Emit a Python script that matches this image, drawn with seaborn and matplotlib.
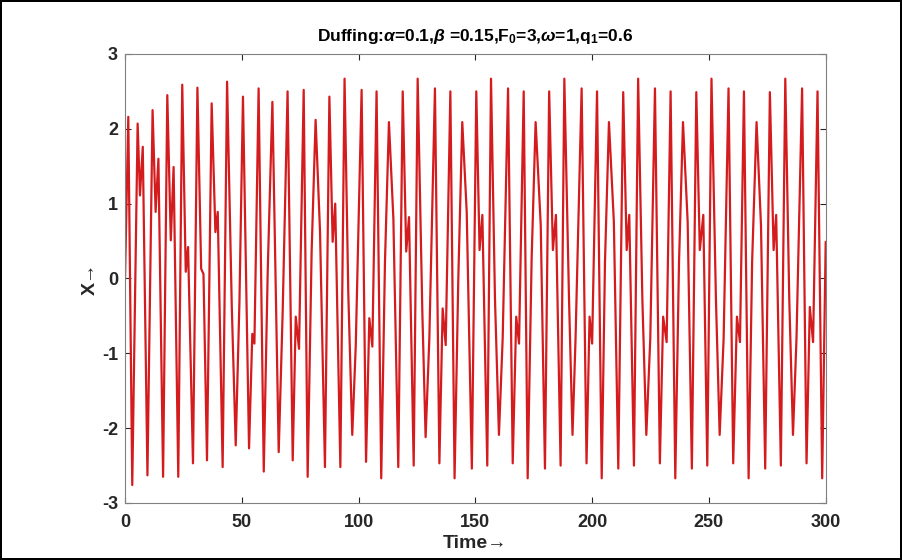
import pandas as pd
import seaborn as sns
import matplotlib.pyplot as plt

# values (extrema and kinks of the trace)
timeVals = [0, 1.4, 3.1, 5.4, 6.4, 7.6, 9.6, 11.8, 13.1, 14.3, 16.3, 18.1, 19.6, 20.8, 22.8,
            24.5, 26.0, 27.0, 29.1, 31.0, 32.6, 33.6, 35.1, 37.1, 38.7, 39.7, 41.8, 43.7, 45.7,
            47.4, 49.0, 50.5, 53.1, 54.5, 55.4, 57.2, 59.4, 61.1, 63.1, 65.8, 67.5, 69.6, 71.8,
            73.1, 74.5, 76.5, 78.2, 79.9, 81.6, 83.5, 85.6, 87.5, 88.9, 90.0, 92.2, 94.0, 95.6,
            97.3, 98.8, 101.3, 103.2, 104.6, 105.9, 107.7, 109.7, 111.3, 113.0, 114.9, 117.0,
            118.9, 120.4, 121.6, 123.6, 125.3, 127.3, 128.7, 130.3, 132.7, 134.6, 136.0, 137.3,
            139.3, 141.1, 142.7, 144.4, 146.3, 148.5, 150.4, 151.8, 153.0, 155.1, 156.7, 158.4,
            160.1, 161.7, 164.0, 166.0, 167.5, 168.7, 170.7, 172.4, 174.1, 175.8, 178.0, 179.8,
            181.6, 183.2, 184.5, 186.5, 188.1, 190.1, 191.6, 192.9, 195.5, 197.6, 198.9, 200.0,
            202.1, 204.1, 205.5, 207.2, 209.3, 211.2, 213.3, 214.8, 215.9, 217.9, 219.7, 221.5,
            223.2, 224.9, 226.9, 229.0, 230.4, 231.9, 233.6, 235.6, 237.2, 238.9, 240.9, 242.7,
            244.6, 246.1, 247.6, 249.3, 251.1, 253.0, 254.6, 256.3, 258.4, 260.4, 262.0, 263.3,
            265.0, 267.0, 268.5, 270.4, 272.3, 274.1, 276.1, 277.7, 278.8, 280.8, 282.7, 284.4,
            286.0, 287.5, 289.9, 291.8, 293.2, 294.6, 296.5, 298.5, 300.0]
xVals = [0.0, 2.16, -2.76, 2.07, 1.11, 1.76, -2.63, 2.25, 0.89, 1.60, -2.65, 2.45, 0.51, 1.49, -2.65,
         2.59, 0.09, 0.42, -2.47, 2.55, 0.13, 0.06, -2.43, 2.34, 0.62, 0.89, -2.52, 2.63, -0.36,
         -2.23, -0.30, 2.43, -2.27, -0.74, -0.87, 2.54, -2.58, 0.10, 2.36, -2.32, -0.45, 2.50, -2.43,
         -0.51, -0.94, 2.52, -2.65, 0.36, 2.12, 0.62, -2.52, 2.43, 0.49, 1.00, -2.52, 2.67, -0.20,
         -2.09, -0.89, 2.52, -2.45, -0.53, -0.91, 2.50, -2.67, 0.22, 2.09, 0.80, -2.52,
         2.50, 0.36, 0.82, -2.50, 2.67, -0.45, -2.12, -0.80, 2.54, -2.47, -0.40, -0.89,
         2.50, -2.67, 0.00, 2.09, 0.89, -2.54, 2.50, 0.38, 0.85, -2.50, 2.67, -0.27,
         -2.09, -0.80, 2.54, -2.47, -0.51, -0.87, 2.50, -2.67, 0.27, 2.09, 0.71, -2.54,
         2.50, 0.38, 0.85, -2.50, 2.67, -0.27, -2.09, -0.80, 2.54, -2.47, -0.51, -0.87,
         2.50, -2.67, 0.22, 2.09, 0.76, -2.54, 2.49, 0.38, 0.85, -2.50, 2.67, -0.27,
         -2.09, -0.80, 2.54, -2.47, -0.51, -0.85, 2.50, -2.67, 0.22, 2.09, 0.76, -2.54,
         2.49, 0.38, 0.85, -2.50, 2.67, -0.27, -2.09, -0.80, 2.54, -2.47, -0.51, -0.85,
         2.50, -2.67, 0.22, 2.09, 0.71, -2.54, 2.49, 0.38, 0.85, -2.50, 2.67, -0.27,
         -2.09, -0.80, 2.54, -2.47, -0.38, -0.85, 2.50, -2.67, 0.49]
xTicks = [0, 50, 100, 150, 200, 250, 300]
yTicks = [-3, -2, -1, 0, 1, 2, 3]

df = pd.DataFrame({"Time": timeVals, "X": xVals})

sns.set_style("ticks")
plt.rcParams['font.family'] = ['Liberation Sans', 'DejaVu Sans']
plt.rcParams['font.weight'] = 'bold'
plt.rcParams['axes.unicode_minus'] = False
plt.rcParams['mathtext.fontset'] = 'custom'
plt.rcParams['mathtext.rm'] = 'Liberation Sans:bold'
plt.rcParams['mathtext.it'] = 'Liberation Sans:italic'

fig = plt.figure(figsize=(9.02, 5.6), dpi=100)
fig.patch.set_edgecolor('black')
fig.patch.set_linewidth(1.5)
ax = fig.add_axes([0.1386, 0.1018, 0.7768, 0.8018])

sns.lineplot(data=df, x="Time", y="X", ax=ax, color="#d41c1e", linewidth=1.6,
             estimator=None, sort=False)

ax.set_xlim(0, 300)
ax.set_ylim(-3, 3)
ax.set_xticks(xTicks)
ax.set_yticks(yTicks)
ax.tick_params(direction='in', length=4, width=0.8, colors='#262626', labelsize=13,
               top=True, right=True)
ax.tick_params(axis='x', pad=8)
ax.tick_params(axis='y', pad=5)
for lab in ax.get_xticklabels() + ax.get_yticklabels():
    lab.set_fontweight('bold')
for s in ax.spines.values():
    s.set_visible(True)
    s.set_color('#808080')
    s.set_linewidth(0.8)

ax.set_xlabel("Time→", fontsize=14, fontweight='bold', color='#262626', labelpad=3)
ax.set_ylabel("X→", fontsize=14, fontweight='bold', color='#262626', labelpad=2)
ax.set_title(r"Duffing:$\alpha$=0.1,$\beta$ =0.15,F$_0$=3,$\omega$=1,q$_1$=0.6",
             fontsize=12.5, fontweight='bold', color='black', pad=9)

fig.savefig("out.png", dpi=100)
